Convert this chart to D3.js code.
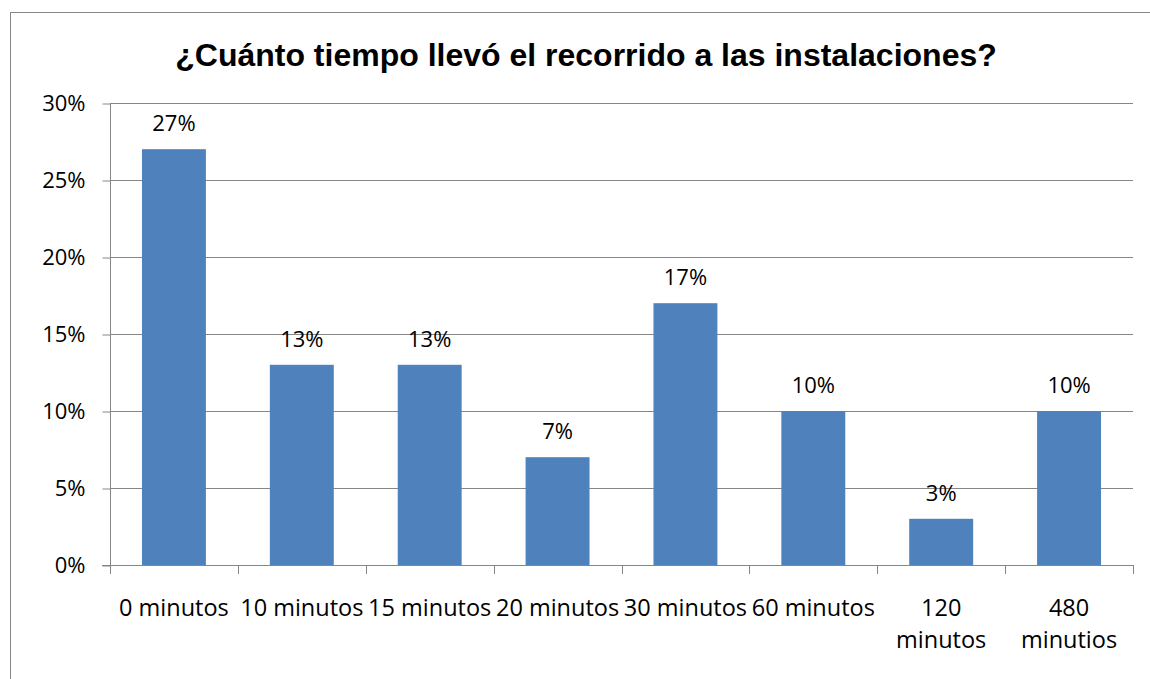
<!DOCTYPE html>
<html>
<head>
<meta charset="utf-8">
<script src="https://cdn.jsdelivr.net/npm/d3@7"></script>
<style>
  html, body { margin: 0; padding: 0; background: #fff; }
  svg { display: block; }
</style>
</head>
<body>
<svg id="chart" width="1150" height="679"></svg>
<script>
// Survey: how long the facilities tour took
const categories = [["0 minutos"], ["10 minutos"], ["15 minutos"], ["20 minutos"], ["30 minutos"], ["60 minutos"], ["120", "minutos"], ["480", "minutios"]];
const values = [27, 13, 13, 7, 17, 10, 3, 10];
const yTicks = [0, 5, 10, 15, 20, 25, 30];
const title = "¿Cuánto tiempo llevó el recorrido a las instalaciones?";

const svg = d3.select("#chart");
const labelFont = "'Open Sans', sans-serif";
const labelSize = 22;
const catSize = 23.5;

const plot = { left: 110, right: 1133, top: 103, bottom: 565 };

// outer frame
svg.append("rect")
  .attr("x", 10.5).attr("y", 12.5)
  .attr("width", 1200).attr("height", 800)
  .attr("fill", "none").attr("stroke", "#868686").attr("stroke-width", 1);

svg.append("text")
  .attr("x", 586).attr("y", 66)
  .attr("text-anchor", "middle")
  .attr("font-family", "'Liberation Sans', Arial, sans-serif")
  .attr("font-weight", "bold")
  .attr("font-size", 32)
  .attr("fill", "#000")
  .text(title);

const x = d3.scaleBand()
  .domain(d3.range(categories.length))
  .range([plot.left, plot.right])
  .paddingInner(0.5).paddingOuter(0.25);

const y = d3.scaleLinear().domain([0, 30]).range([plot.bottom, plot.top]);

// gridlines
svg.append("g")
  .selectAll("line")
  .data(yTicks)
  .join("line")
  .attr("x1", plot.left).attr("x2", plot.right)
  .attr("y1", d => Math.round(y(d)) + 0.5).attr("y2", d => Math.round(y(d)) + 0.5)
  .attr("stroke", "#868686").attr("stroke-width", 1);

// bars
svg.append("g")
  .selectAll("rect")
  .data(values)
  .join("rect")
  .attr("x", (d, i) => x(i))
  .attr("width", x.bandwidth())
  .attr("y", d => y(d))
  .attr("height", d => y(0) - y(d))
  .attr("fill", "#4F81BD");

// value labels
svg.append("g")
  .selectAll("text")
  .data(values)
  .join("text")
  .attr("x", (d, i) => x(i) + x.bandwidth() / 2)
  .attr("y", d => y(d) - 18)
  .attr("text-anchor", "middle")
  .attr("font-family", labelFont)
  .attr("font-size", labelSize)
  .attr("fill", "#000")
  .text(d => d + "%");

// y axis
const yAxis = d3.axisLeft(y)
  .tickValues(yTicks)
  .tickFormat(d => d + "%")
  .tickSize(8)
  .tickPadding(17);
const gy = svg.append("g").attr("transform", `translate(${plot.left + 0.5},0.5)`).call(yAxis);
gy.select(".domain").attr("stroke", "#868686").attr("d", `M0,${plot.top}V${plot.bottom}`);
gy.selectAll(".tick line").attr("stroke", "#868686");
gy.selectAll(".tick text")
  .attr("font-family", labelFont)
  .attr("font-size", labelSize)
  .attr("fill", "#000");

// x axis: baseline with ticks at category boundaries
const step = (plot.right - plot.left) / categories.length;
const boundaries = d3.range(categories.length + 1).map(i => plot.left + i * step);
const gx = svg.append("g");
gx.append("line")
  .attr("x1", plot.left - 8).attr("x2", plot.right)
  .attr("y1", plot.bottom + 0.5).attr("y2", plot.bottom + 0.5)
  .attr("stroke", "#868686");
gx.selectAll("line.tick")
  .data(boundaries)
  .join("line")
  .attr("class", "tick")
  .attr("x1", d => Math.round(d) + 0.5).attr("x2", d => Math.round(d) + 0.5)
  .attr("y1", plot.bottom).attr("y2", plot.bottom + 9)
  .attr("stroke", "#868686");

const catText = gx.selectAll("text.cat")
  .data(categories)
  .join("text")
  .attr("class", "cat")
  .attr("x", (d, i) => x(i) + x.bandwidth() / 2)
  .attr("y", 616)
  .attr("text-anchor", "middle")
  .attr("font-family", labelFont)
  .attr("font-size", catSize)
  .attr("fill", "#000");
catText.selectAll("tspan")
  .data(d => d)
  .join("tspan")
  .attr("x", function() { return d3.select(this.parentNode).attr("x"); })
  .attr("dy", (d, j) => j === 0 ? 0 : 32)
  .text(d => d);
</script>
</body>
</html>
